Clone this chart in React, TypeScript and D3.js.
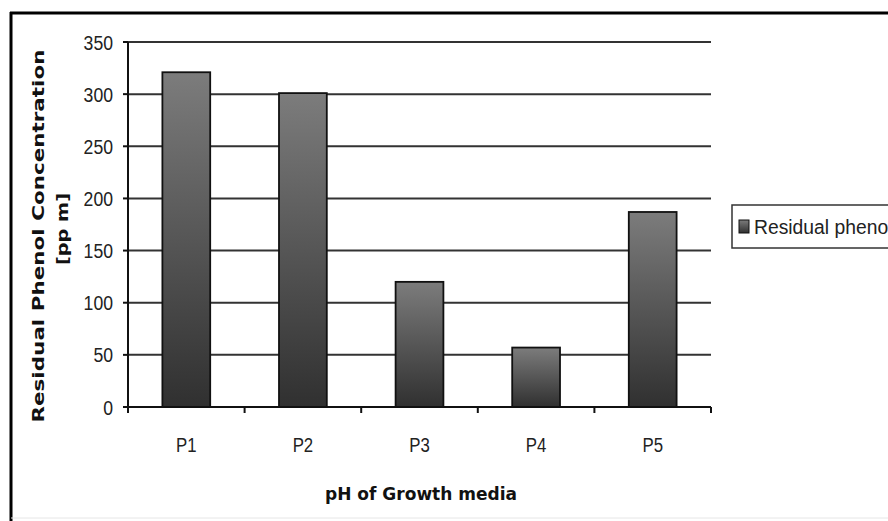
import React from "react";
import * as d3 from "d3";

const categories = ["P1", "P2", "P3", "P4", "P5"];
const values = [321, 301, 120, 57, 187];
const yTicks = [0, 50, 100, 150, 200, 250, 300, 350];
const seriesName = "Residual phenol";
const xTitle = "pH of Growth media";
const yTitle = "Residual Phenol Concentration";
const yUnit = "[pp m]";

const W = 888;
const H = 521;
const left = 128;
const right = 711;
const top = 42;
const bottom = 407;

export default function App() {
  const x = d3
    .scaleBand<string>()
    .domain(categories)
    .range([left, right])
    .paddingInner(0.59)
    .paddingOuter(0.295);
  const xb = d3.scaleBand<string>().domain(categories).range([left, right]).padding(0);
  const y = d3.scaleLinear().domain([0, 350]).range([bottom, top]);
  const boundaries = [...categories.map((c) => xb(c) as number), right];
  const sans = "'Liberation Sans', Arial, sans-serif";
  const boldFont = "'DejaVu Sans', Verdana, sans-serif";

  return (
    <svg
      width={W}
      height={H}
      style={{ position: "absolute", left: 0, top: 0, background: "#fff" }}
    >
      <defs>
        <linearGradient id="barGrad" x1="0" y1="0" x2="0" y2="1">
          <stop offset="0%" stopColor="#7c7c7c" />
          <stop offset="100%" stopColor="#303030" />
        </linearGradient>
      </defs>
      <rect x={0} y={0} width={W} height={H} fill="#fff" />
      {/* frame */}
      <line x1={11} y1={12} x2={11} y2={H} stroke="#000" strokeWidth={3} />
      <line x1={10} y1={13} x2={W} y2={13} stroke="#000" strokeWidth={3} />
      <line x1={11} y1={518} x2={W} y2={518} stroke="#e6e6e6" strokeWidth={1} />

      {/* gridlines + y ticks */}
      {yTicks.map((t) => (
        <g key={t}>
          {t > 0 && (
            <line x1={left} x2={right} y1={y(t)} y2={y(t)} stroke="#333" strokeWidth={2} />
          )}
          <line x1={123} x2={left} y1={y(t)} y2={y(t)} stroke="#111" strokeWidth={2} />
          <text
            transform={`translate(113,${y(t)}) scale(0.84,1)`}
            dy="0.36em"
            textAnchor="end"
            fontFamily={sans}
            fontSize={21}
            fill="#222"
          >
            {t}
          </text>
        </g>
      ))}

      {/* bars */}
      {categories.map((c, i) => (
        <rect
          key={c}
          x={x(c)}
          y={y(values[i])}
          width={x.bandwidth()}
          height={bottom - y(values[i])}
          fill="url(#barGrad)"
          stroke="#111"
          strokeWidth={1.8}
        />
      ))}

      {/* axes */}
      <line x1={left} x2={left} y1={top} y2={bottom} stroke="#111" strokeWidth={2} />
      <line x1={left} x2={right} y1={bottom} y2={bottom} stroke="#111" strokeWidth={2} />
      {boundaries.map((b, i) => (
        <line key={i} x1={b} x2={b} y1={bottom} y2={bottom + 6} stroke="#111" strokeWidth={2} />
      ))}
      {categories.map((c) => (
        <text
          key={c}
          transform={`translate(${(x(c) as number) + x.bandwidth() / 2},452) scale(0.8,1)`}
          textAnchor="middle"
          fontFamily={sans}
          fontSize={21}
          fill="#222"
        >
          {c}
        </text>
      ))}

      {/* axis titles */}
      <text
        x={421}
        y={500}
        textAnchor="middle"
        fontFamily={boldFont}
        fontWeight="bold"
        fontSize={17}
        textLength={192}
        lengthAdjust="spacingAndGlyphs"
        fill="#111"
      >
        {xTitle}
      </text>
      <text
        transform={`translate(44,236) rotate(-90)`}
        textAnchor="middle"
        fontFamily={boldFont}
        fontWeight="bold"
        fontSize={16}
        textLength={373}
        lengthAdjust="spacingAndGlyphs"
        fill="#111"
      >
        {yTitle}
      </text>
      <text
        transform={`translate(68,229) rotate(-90)`}
        textAnchor="middle"
        fontFamily={boldFont}
        fontWeight="bold"
        fontSize={16}
        textLength={72}
        lengthAdjust="spacingAndGlyphs"
        fill="#111"
      >
        {yUnit}
      </text>

      {/* legend */}
      <rect x={732} y={205} width={200} height={43} fill="#fff" stroke="#333" strokeWidth={1.5} />
      <rect x={739} y={220} width={10} height={13} fill="url(#barGrad)" stroke="#111" strokeWidth={1} />
      <text
        transform="translate(754,234) scale(0.92,1)"
        fontFamily={sans}
        fontSize={21}
        fill="#222"
      >
        {seriesName}
      </text>
    </svg>
  );
}
